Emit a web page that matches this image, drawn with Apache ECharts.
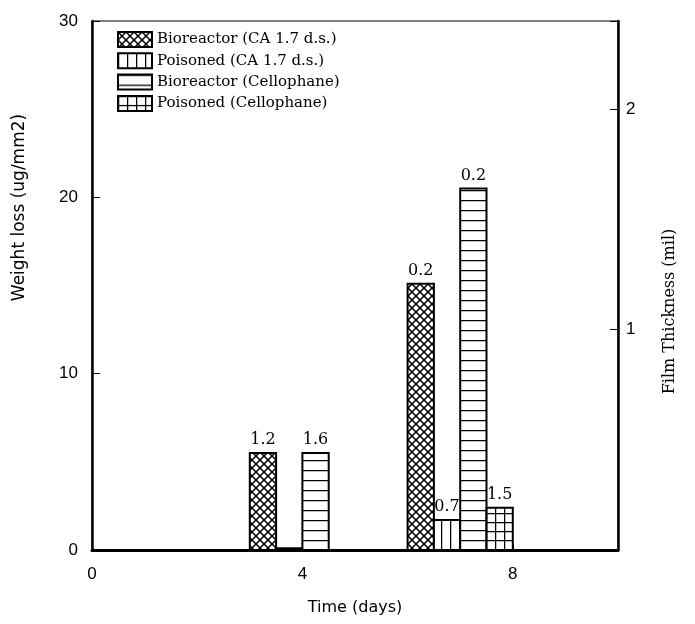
<!DOCTYPE html>
<html>
<head>
<meta charset="utf-8">
<script src="https://cdn.jsdelivr.net/npm/echarts@6/dist/echarts.min.js"></script>
<style>
  html, body { margin: 0; padding: 0; background: #fff; }
  #chart { width: 695px; height: 624px; }
</style>
</head>
<body>
<div id="chart"></div>
<script>
// Sampling days (x positions of the bar groups)
const days = [4, 7];

// Weight loss (ug/mm2) per film / condition
const bioCA       = [5.5, 15.1];
const poisonedCA  = [0.1, 1.7];
const bioCello    = [5.5, 20.5];
const poisonedCello = [0, 2.4];

// Film thickness (mil) written above each bar
const bioCALabels       = ['1.2', '0.2'];
const poisonedCALabels  = ['', '0.7'];
const bioCelloLabels    = ['1.6', '0.2'];
const poisonedCelloLabels = ['', '1.5'];

const seriesNames = [
  'Bioreactor (CA 1.7 d.s.)',
  'Poisoned (CA 1.7 d.s.)',
  'Bioreactor (Cellophane)',
  'Poisoned (Cellophane)'
];

// Axis ticks
const xTicks = [0, 4, 8];
const leftTicks = [0, 10, 20, 30];
const rightTicks = [1, 2];

const SERIF = '"DejaVu Serif", "Liberation Serif", serif';
const SANS = '"Liberation Sans", Arial, sans-serif';
const SANS_WIDE = '"DejaVu Sans", "Liberation Sans", sans-serif';

// Hatch pattern tiles
function makeTile(w, h, draw) {
  const c = document.createElement('canvas');
  c.width = w; c.height = h;
  const g = c.getContext('2d');
  g.fillStyle = '#fff';
  g.fillRect(0, 0, w, h);
  g.strokeStyle = '#000';
  g.lineWidth = 1.5;
  g.beginPath();
  draw(g, w, h);
  g.stroke();
  return { image: c, repeat: 'repeat' };
}
const crossHatch = makeTile(8, 8, (g, w, h) => {
  g.moveTo(-1, -1); g.lineTo(w + 1, h + 1);
  g.moveTo(w + 1, -1); g.lineTo(-1, h + 1);
});
const vertHatch = makeTile(9, 9, (g, w, h) => {
  g.moveTo(0.5, 0); g.lineTo(0.5, h);
});
const horizHatch = makeTile(10, 10, (g, w, h) => {
  g.moveTo(0, 0.5); g.lineTo(w, 0.5);
});
const gridHatch = makeTile(9, 9, (g, w, h) => {
  g.moveTo(0.5, 0); g.lineTo(0.5, h);
  g.moveTo(0, 0.5); g.lineTo(w, 0.5);
});
const patterns = [crossHatch, vertHatch, horizHatch, gridHatch];
const values = [bioCA, poisonedCA, bioCello, poisonedCello];
const labels = [bioCALabels, poisonedCALabels, bioCelloLabels, poisonedCelloLabels];

const BAR_W = 0.5; // bar width in days

function renderBar(params, api) {
  const si = params.seriesIndex;
  const day = api.value(0);
  const val = api.value(1);
  const center = day + (si - 1.5) * BAR_W;
  const top = api.coord([center - BAR_W / 2, val]);
  const base = api.coord([center + BAR_W / 2, 0]);
  const children = [{
    type: 'rect',
    shape: { x: top[0], y: top[1], width: base[0] - top[0], height: base[1] - top[1] },
    style: { fill: patterns[si], stroke: '#000', lineWidth: 2 }
  }];
  const txt = labels[si][params.dataIndex];
  if (txt) {
    children.push({
      type: 'text',
      style: {
        text: txt,
        x: (top[0] + base[0]) / 2,
        y: top[1] - 5,
        align: 'center',
        verticalAlign: 'bottom',
        font: '16px ' + SERIF,
        fill: '#000'
      }
    });
  }
  return { type: 'group', children };
}

const chart = echarts.init(document.getElementById('chart'));
chart.setOption({
  animation: false,
  backgroundColor: '#fff',
  grid: {
    left: 92, right: 77, top: 21, bottom: 74,
    outerBoundsMode: 'none',
    show: true, borderColor: '#000', borderWidth: 1, backgroundColor: 'transparent'
  },
  legend: {
    orient: 'vertical',
    left: 112, top: 26,
    itemWidth: 34, itemHeight: 15, itemGap: 4.3,
    icon: 'rect',
    data: seriesNames,
    textStyle: { fontFamily: SERIF, fontSize: 15, color: '#000' },
    selectedMode: false
  },
  xAxis: {
    type: 'value', min: 0, max: 10, interval: 4,
    name: 'Time (days)', nameLocation: 'middle', nameGap: 50,
    nameTextStyle: { fontFamily: SANS_WIDE, fontSize: 16, color: '#000' },
    axisLine: { show: true, onZero: false, lineStyle: { color: '#000', width: 3 } },
    axisTick: { show: true, inside: true, length: 5, lineStyle: { color: '#000', width: 1 } },
    axisLabel: {
      fontFamily: SANS, fontSize: 17, color: '#000', margin: 16,
      formatter: v => xTicks.includes(v) ? String(v) : ''
    },
    splitLine: { show: false }
  },
  yAxis: [{
    type: 'value', min: 0, max: 30, interval: 10,
    name: 'Weight loss (ug/mm2)', nameLocation: 'middle', nameGap: 64, nameRotate: 90,
    nameTextStyle: { fontFamily: SANS_WIDE, fontSize: 17, color: '#000', padding: [0, 0, 0, 156] },
    axisLine: { show: true, onZero: false, lineStyle: { color: '#000', width: 2.5 } },
    axisTick: { show: true, inside: true, length: 8, lineStyle: { color: '#000', width: 1 } },
    axisLabel: {
      fontFamily: SANS, fontSize: 17, color: '#000', margin: 14,
      formatter: v => leftTicks.includes(v) ? String(v) : ''
    },
    splitLine: { show: false }
  }, {
    type: 'value', min: 0, max: 2.4, interval: 1, position: 'right',
    name: 'Film Thickness (mil)', nameLocation: 'middle', nameGap: 44, nameRotate: 90,
    nameTextStyle: { fontFamily: SERIF, fontSize: 16, color: '#000', padding: [0, 52, 0, 0] },
    axisLine: { show: true, onZero: false, lineStyle: { color: '#000', width: 2.5 } },
    axisTick: { show: true, inside: true, length: 8, lineStyle: { color: '#000', width: 1 } },
    axisLabel: {
      fontFamily: SANS, fontSize: 17, color: '#000', margin: 8,
      formatter: v => rightTicks.includes(v) ? String(v) : ''
    },
    splitLine: { show: false }
  }],
  series: seriesNames.map((name, si) => ({
    name,
    type: 'custom',
    renderItem: renderBar,
    encode: { x: 0, y: 1 },
    itemStyle: { color: patterns[si], borderColor: '#000', borderWidth: 1.5 },
    data: days.map((d, i) => [d, values[si][i]]),
    z: 2 + si
  }))
});
</script>
</body>
</html>
